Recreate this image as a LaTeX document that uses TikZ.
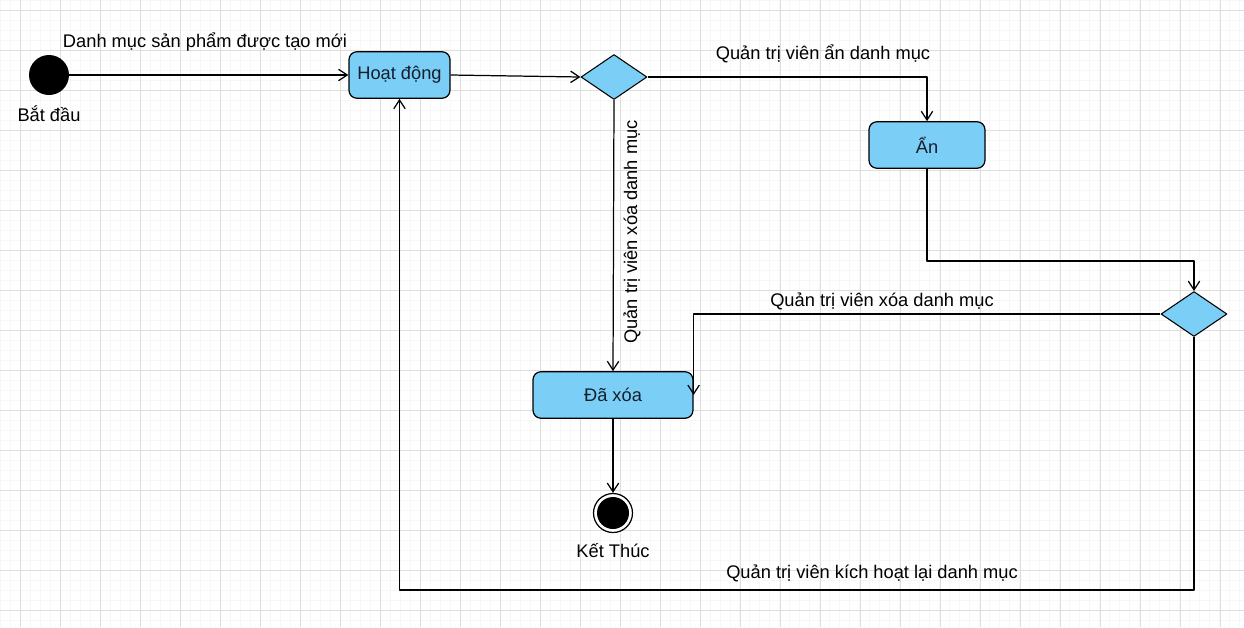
\documentclass[tikz,border=0pt]{standalone}
\usepackage{fontspec}
\setmainfont{Liberation Sans}
\usetikzlibrary{shapes.geometric,arrows.meta}
\definecolor{stfill}{RGB}{123,206,245}
\definecolor{sttext}{RGB}{20,30,45}
\definecolor{gridmin}{RGB}{247,247,247}
\definecolor{gridmaj}{RGB}{222,222,222}
\begin{document}
\begin{tikzpicture}[x=0.02cm, y=-0.02cm, font=\fontsize{10.4}{12.5}\selectfont, line join=round, >={Straight Barb[length=5pt,width=6.5pt]}]
\tikzset{state/.style={draw, fill=stfill, rounded corners=4.5pt, line width=0.7pt, text=sttext, minimum height=0.93cm, inner sep=0pt},
  choice/.style={diamond, draw, fill=stfill, line width=0.6pt, minimum width=1.32cm, minimum height=0.9cm, inner sep=0pt},
  conn/.style={->, line width=0.7pt}}
\useasboundingbox (0,0) rectangle (1244,627);
\fill[white] (0,0) rectangle (1244,627);
\draw[gridmin, line width=0.4pt, step=0.2cm] (0,0) grid (1244,627);
\foreach \gx in {20,60,...,1240} \draw[gridmaj, line width=0.4pt] (\gx,0) -- (\gx,627);
\foreach \gy in {10,50,...,610} \draw[gridmaj, line width=0.4pt] (0,\gy) -- (1244,\gy);
% trang thai
\node[circle, fill=black, minimum size=0.8cm, inner sep=0pt] (bd) at (49,75) {};
\node (bdlbl) at (49,114) {Bắt đầu};
\node[state, minimum width=2.02cm] (hd) at (399.5,75) {Hoạt động};
\node[choice] (d1) at (614,77) {};
\node[state, minimum width=2.32cm] (an) at (927,145) {Ẩn};
\node[choice] (d2) at (1194,314) {};
\node[state, minimum width=3.2cm] (da) at (613,395) {Đã xóa};
\node[circle, draw, fill=white, line width=0.7pt, minimum size=0.78cm, inner sep=0pt,
  path picture={\fill[black] (path picture bounding box.center) circle (0.32cm);}] (kt) at (613,513) {};
\node (ktlbl) at (613,551) {Kết Thúc};
\coordinate (c1) at (1194,261);
\coordinate (c2) at (399.5,590);
% chuyen trang thai
\draw[conn] (bd) -- (hd);
\draw[conn] (hd.east) -- (d1.west);
\draw[conn] (d1.east) -| (an.north);
\draw[conn] (d1.south) -- (da.north);
\draw[conn] (an.south) |- (c1) -- (d2.north);
\draw[conn] (d2.west) -| (da.east);
\draw[conn] (da.south) -- (kt.north);
\draw[conn] (d2.south) |- (c2) -- (hd.south);
\node (l1) at (205,42) {Danh mục sản phẩm được tạo mới};
\node (l2) at (823,54) {Quản trị viên ẩn danh mục};
\node[rotate=90] (l3) at (632,232) {Quản trị viên xóa danh mục};
\node (l4) at (882,301) {Quản trị viên xóa danh mục};
\node (l5) at (872,573) {Quản trị viên kích hoạt lại danh mục};
\end{tikzpicture}
\end{document}
